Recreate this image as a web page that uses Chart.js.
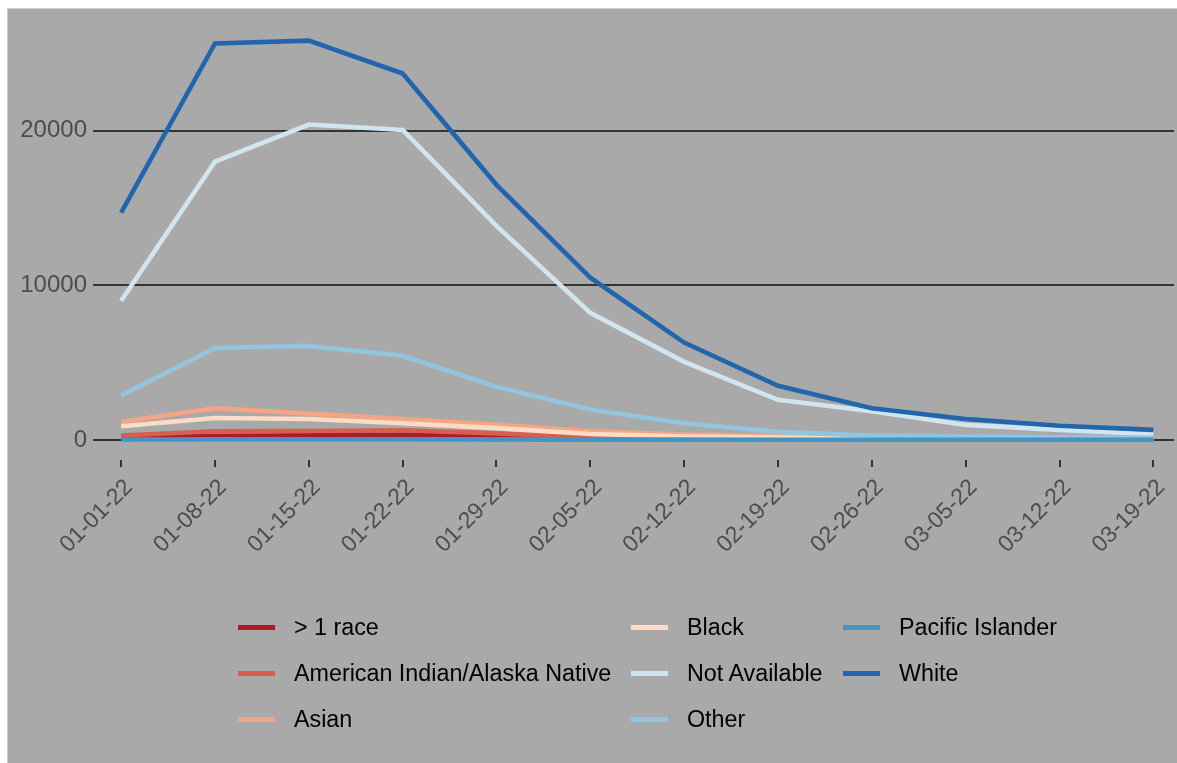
<!DOCTYPE html>
<html><head><meta charset="utf-8">
<script src="https://cdn.jsdelivr.net/npm/chart.js@4/dist/chart.umd.min.js"></script>
<style>
html,body{margin:0;padding:0;background:#fff;width:1177px;height:763px;overflow:hidden;}
#panel{position:absolute;left:7px;top:8px;width:1170px;height:755px;background:#a9a9a9;border-left:1px solid #cfcfcf;border-top:1px solid #cfcfcf;box-sizing:border-box;}
#wrap{position:absolute;left:7px;top:8px;width:1170px;height:755px;}
.leg{position:absolute;font:23.3px "Liberation Sans",Arial,sans-serif;color:#000;white-space:nowrap;height:30px;line-height:30px;}
.leg i{position:absolute;left:0;top:13px;width:37px;height:5px;}
.leg span{position:absolute;left:56px;top:0;}
</style></head>
<body>
<div id="panel"></div>
<div id="wrap"><canvas id="c" width="1170" height="755"></canvas></div>
<script>
const categories = ['01-01-22','01-08-22','01-15-22','01-22-22','01-29-22','02-05-22','02-12-22','02-19-22','02-26-22','03-05-22','03-12-22','03-19-22'];
const seriesNames = ['> 1 race','American Indian/Alaska Native','Asian','Black','Not Available','Other','Pacific Islander','White'];
const multiRace      = [180, 250, 300, 330, 230, 60, 40, 30, 20, 15, 10, 10];
const amIndian       = [280, 560, 580, 620, 420, 150, 80, 50, 40, 30, 20, 20];
const asian          = [1180, 2050, 1700, 1350, 980, 550, 350, 260, 180, 130, 100, 80];
const black          = [880, 1420, 1350, 1080, 760, 380, 220, 160, 120, 90, 70, 50];
const notAvailable   = [9000, 18000, 20400, 20050, 13850, 8220, 5050, 2590, 1850, 970, 650, 370];
const other          = [2880, 5950, 6080, 5440, 3430, 1960, 1080, 520, 280, 210, 170, 140];
const pacificIslander= [30, 40, 40, 40, 35, 20, 15, 10, 10, 10, 10, 10];
const white          = [14700, 25650, 25830, 23700, 16500, 10500, 6300, 3500, 2050, 1350, 920, 650];
const yTicks = [0, 10000, 20000];

const seriesValues = [multiRace, amIndian, asian, black, notAvailable, other, pacificIslander, white];
const colors = ['#B2182B','#D6604D','#F4A582','#FDDBC7','#D1E5F0','#92C5DE','#4393C3','#2166AC'];
const FONT = '"Liberation Sans", Arial, sans-serif';

new Chart(document.getElementById('c'), {
  type: 'line',
  data: {
    datasets: seriesNames.map((n, i) => ({
      label: n,
      data: seriesValues[i].map((v, j) => ({x: j, y: v})),
      borderColor: colors[i],
      backgroundColor: colors[i],
      borderWidth: 4.6,
      pointRadius: 0,
      tension: 0,
      fill: false,
      order: seriesNames.length - i
    }))
  },
  options: {
    responsive: false,
    animation: false,
    devicePixelRatio: 1,
    layout: {padding: {top: 13, right: 3, left: 0, bottom: 0}},
    plugins: {legend: {display: false}, tooltip: {enabled: false}},
    scales: {
      x: {
        type: 'linear', min: -0.3, max: 11.22,
        afterBuildTicks: s => { s.ticks = categories.map((c, i) => ({value: i})); },
        afterFit: s => { s.height = 303; s.paddingLeft = 0; s.paddingRight = 0; },
        ticks: {
          callback: v => categories[v],
          autoSkip: false, maxRotation: 45, minRotation: 45,
          font: {size: 23, family: FONT}, color: '#4d4d4d', padding: 7, labelOffset: 8
        },
        grid: {drawOnChartArea: false, drawTicks: true, tickLength: 7, color: '#333333', lineWidth: 2},
        border: {display: false}
      },
      y: {
        min: -1300, max: 27100,
        afterBuildTicks: s => { s.ticks = yTicks.map(v => ({value: v})); },
        afterFit: s => { s.width = 86; s.paddingTop = 0; s.paddingBottom = 0; },
        ticks: {
          callback: v => String(v),
          font: {size: 24, family: FONT}, color: '#4d4d4d', padding: 6
        },
        grid: {color: '#333333', lineWidth: 2, drawTicks: false},
        border: {display: false}
      }
    }
  }
});

// legend (column-major, 3 rows)
const legendCols = [238, 631, 843];
const legendRows = [627, 673, 719];
seriesNames.forEach((n, i) => {
  const col = Math.floor(i / 3), row = i % 3;
  const d = document.createElement('div');
  d.className = 'leg';
  d.style.left = legendCols[col] + 'px';
  d.style.top = (legendRows[row] - 15) + 'px';
  const ln = document.createElement('i');
  ln.style.background = colors[i];
  const t = document.createElement('span');
  t.textContent = n;
  d.appendChild(ln); d.appendChild(t);
  document.body.appendChild(d);
});
</script>
</body></html>
